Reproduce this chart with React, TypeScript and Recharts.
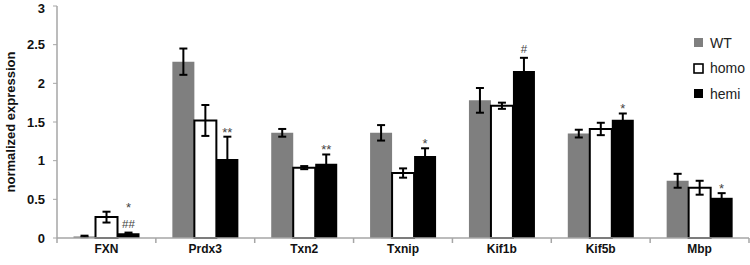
import React from 'react';
import { BarChart, Bar, XAxis, YAxis, ErrorBar, LabelList } from 'recharts';

const categories = ['FXN', 'Prdx3', 'Txn2', 'Txnip', 'Kif1b', 'Kif5b', 'Mbp'];
const wt = [0.02, 2.28, 1.36, 1.36, 1.78, 1.35, 0.74];
const wtErr = [0.01, 0.17, 0.05, 0.1, 0.16, 0.05, 0.09];
const homo = [0.27, 1.52, 0.91, 0.84, 1.71, 1.41, 0.65];
const homoErr = [0.07, 0.2, 0.02, 0.06, 0.04, 0.08, 0.09];
const hemi = [0.06, 1.02, 0.96, 1.06, 2.16, 1.53, 0.52];
const hemiErr = [0.01, 0.29, 0.12, 0.1, 0.17, 0.08, 0.06];
const hemiMarks = [['*', '##'], ['**'], ['**'], ['*'], ['#'], ['*'], ['*']];
const yTicks = [0, 0.5, 1, 1.5, 2, 2.5, 3];

const data = categories.map((c, i) => ({
  name: c,
  wt: wt[i],
  wtErr: wtErr[i],
  homo: homo[i],
  homoErr: homoErr[i],
  hemi: hemi[i],
  hemiErr: hemiErr[i],
}));

const FONT = '"Liberation Sans", Arial, sans-serif';
const AXIS = '#a6a6a6';

const MarkLabel = (props: any) => {
  const { x, y, width, height, index } = props;
  const v = hemi[index];
  const e = hemiErr[index];
  const pxPerUnit = height / v;
  const errTop = y - e * pxPerUnit;
  const marks = hemiMarks[index];
  const cx = x + width / 2;
  return (
    <g>
      {marks.map((m, k) => {
        const fromBottom = marks.length - 1 - k;
        const isStar = m.includes('*');
        const base = errTop - 5 - fromBottom * 21 + (isStar ? 5 : 0);
        return (
          <text key={k} x={cx} y={base} textAnchor="middle" fontFamily={FONT} fontSize={isStar ? 13 : 11.5} fill="#444">
            {m}
          </text>
        );
      })}
    </g>
  );
};

const CatTick = (props: any) => {
  const { x, y, payload, index } = props;
  const half = payload && payload.offset ? payload.offset : 0;
  const isLast = index === categories.length - 1;
  return (
    <g>
      <line x1={x - half} x2={x - half} y1={y} y2={y + 5} stroke={AXIS} strokeWidth={1.5} />
      {isLast && <line x1={x + half} x2={x + half} y1={y} y2={y + 5} stroke={AXIS} strokeWidth={1.5} />}
      <text x={x} y={y + 14.5} textAnchor="middle" fontFamily={FONT} fontSize={12} fontWeight="bold" fill="#111">
        {payload.value}
      </text>
    </g>
  );
};

const legendItems = [
  { label: 'WT', fill: '#7f7f7f', stroke: 'none' },
  { label: 'homo', fill: '#ffffff', stroke: '#000' },
  { label: 'hemi', fill: '#000000', stroke: 'none' },
];

const LegendBox = () => (
  <div style={{ position: 'absolute', left: 693, top: 30, fontFamily: FONT, fontSize: 14, color: '#222' }}>
    {legendItems.map((it) => (
      <div key={it.label} style={{ display: 'flex', alignItems: 'center', height: 25.5 }}>
        <svg width={11} height={11} style={{ marginRight: 6 }}>
          <rect x={1} y={1} width={9} height={9} fill={it.fill} stroke={it.stroke} strokeWidth={it.stroke === 'none' ? 0 : 1.6} />
        </svg>
        <span>{it.label}</span>
      </div>
    ))}
  </div>
);

export default function App() {
  return (
    <div style={{ position: 'absolute', left: 0, top: 0, width: 750, height: 265, background: '#fff' }}>
      <BarChart
        width={750}
        height={265}
        data={data}
        margin={{ top: 6, right: 1, bottom: 0, left: 0 }}
        barCategoryGap="16.7%"
        barGap={0}
      >
        <XAxis
          dataKey="name"
          axisLine={{ stroke: AXIS, strokeWidth: 1.5 }}
          tickLine={false}
          tickSize={0}
          tickMargin={0}
          height={27}
          tick={<CatTick />}
          interval={0}
        />
        <YAxis
          domain={[0, 3]}
          ticks={yTicks}
          width={57}
          axisLine={{ stroke: AXIS, strokeWidth: 1.5 }}
          tickLine={{ stroke: AXIS, strokeWidth: 1 }}
          tickSize={4}
          tickMargin={8}
          tick={{ fontFamily: FONT, fontSize: 13, fontWeight: 'bold', fill: '#111' }}
          label={{
            value: 'normalized expression',
            angle: -90,
            position: 'insideLeft',
            dx: 5,
            style: { fontFamily: FONT, fontSize: 13, fontWeight: 'bold', fill: '#111', textAnchor: 'middle' },
          }}
        />
        <Bar dataKey="wt" fill="#7f7f7f" isAnimationActive={false}>
          <ErrorBar dataKey="wtErr" width={4} stroke="#000" strokeWidth={2} direction="y" />
        </Bar>
        <Bar dataKey="homo" fill="#ffffff" stroke="#000" strokeWidth={2} isAnimationActive={false}>
          <ErrorBar dataKey="homoErr" width={4} stroke="#000" strokeWidth={2} direction="y" />
        </Bar>
        <Bar dataKey="hemi" fill="#000000" isAnimationActive={false}>
          <ErrorBar dataKey="hemiErr" width={4} stroke="#000" strokeWidth={2} direction="y" />
          <LabelList dataKey="hemi" content={<MarkLabel />} />
        </Bar>
      </BarChart>
      <LegendBox />
    </div>
  );
}
